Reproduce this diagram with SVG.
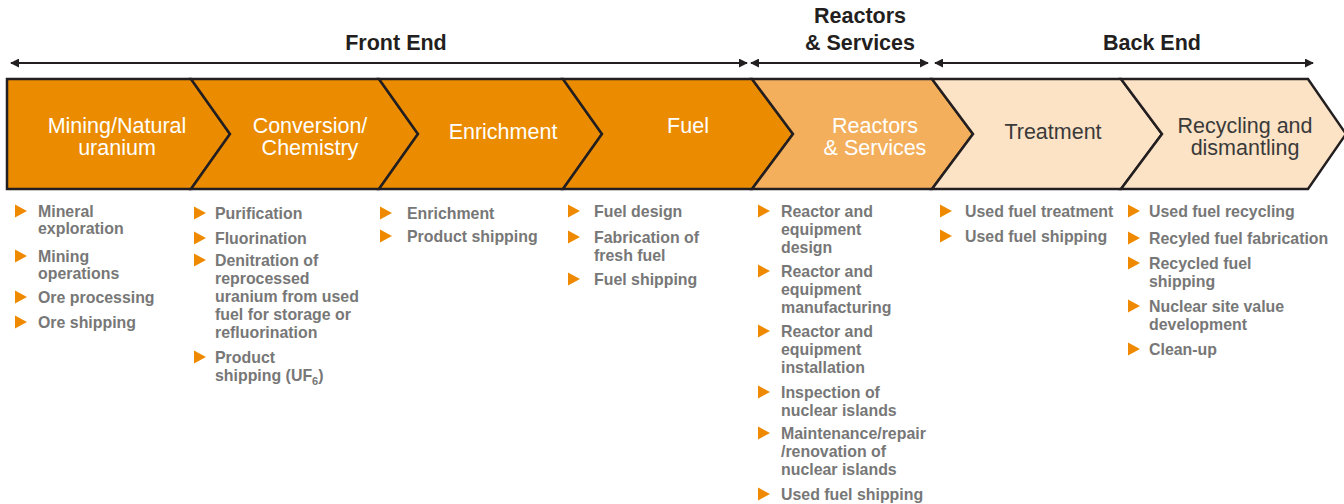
<svg xmlns="http://www.w3.org/2000/svg" width="1344" height="504" viewBox="0 0 1344 504">
<defs>
<style>
.hd{font-family:"Liberation Sans",Arial,sans-serif;font-weight:bold;font-size:21.5px;fill:#231f20;text-anchor:middle}
.ch{stroke:#231f20;stroke-width:2.5;stroke-linejoin:miter}
.fe{fill:#eb8c00}
.rs{fill:#f3af5c}
.be{fill:#fce3c6}
.lw{font-family:"Liberation Sans",Arial,sans-serif;font-size:21.5px;fill:#ffffff;text-anchor:middle}
.ld{font-family:"Liberation Sans",Arial,sans-serif;font-size:21.5px;fill:#3a3a3a;text-anchor:middle}
.bt{font-family:"Liberation Sans",Arial,sans-serif;font-weight:bold;font-size:15.9px;fill:#777777}
.bu{fill:#ef8a00}
.ar{stroke:#231f20;stroke-width:2;fill:none}
</style>
<marker id="ah" viewBox="0 0 10 10" refX="9" refY="5" markerWidth="4.5" markerHeight="4.5" orient="auto-start-reverse" markerUnits="strokeWidth">
<path d="M0,0 L10,5 L0,10 z" fill="#231f20"/>
</marker>
<path id="tri" d="M0,-6.5 L12,0 L0,6.5 z"/>
</defs>
<rect width="1344" height="504" fill="#ffffff"/>

<g id="headers">
<text class="hd" x="396" y="50">Front End</text>
<text class="hd" x="860" y="23">Reactors</text>
<text class="hd" x="860" y="50">&amp; Services</text>
<text class="hd" x="1152" y="50">Back End</text>
</g>

<g id="connectors">
<line class="ar" x1="11" y1="63" x2="747" y2="63" marker-start="url(#ah)" marker-end="url(#ah)"/>
<line class="ar" x1="751" y1="63" x2="928" y2="63" marker-start="url(#ah)" marker-end="url(#ah)"/>
<line class="ar" x1="935" y1="63" x2="1313" y2="63" marker-start="url(#ah)" marker-end="url(#ah)"/>
</g>

<g id="node-mining">
<polygon class="ch fe" points="7,79 191,79 230,134 191,189 7,189"/>
<text class="lw" x="117" y="133">Mining/Natural</text>
<text class="lw" x="117" y="155">uranium</text>
</g>
<g id="node-conversion">
<polygon class="ch fe" points="191,79 379,79 418,134 379,189 191,189 230,134"/>
<text class="lw" x="310" y="133">Conversion/</text>
<text class="lw" x="310" y="155">Chemistry</text>
</g>
<g id="node-enrichment">
<polygon class="ch fe" points="379,79 563,79 602,134 563,189 379,189 418,134"/>
<text class="lw" x="503" y="139">Enrichment</text>
</g>
<g id="node-fuel">
<polygon class="ch fe" points="563,79 752,79 793,134 752,189 563,189 602,134"/>
<text class="lw" x="688" y="133">Fuel</text>
</g>
<g id="node-reactors">
<polygon class="ch rs" points="752,79 932,79 973,134 932,189 752,189 793,134"/>
<text class="lw" x="875" y="133">Reactors</text>
<text class="lw" x="875" y="155">&amp; Services</text>
</g>
<g id="node-treatment">
<polygon class="ch be" points="932,79 1121,79 1162,134 1121,189 932,189 973,134"/>
<text class="ld" x="1053" y="139">Treatment</text>
</g>
<g id="node-recycling">
<polygon class="ch be" points="1121,79 1308,79 1346,134 1308,189 1121,189 1162,134"/>
<text class="ld" x="1245" y="133">Recycling and</text>
<text class="ld" x="1245" y="155">dismantling</text>
</g>

<g id="list-mining">
<use href="#tri" class="bu" x="15" y="211"/>
<use href="#tri" class="bu" x="15" y="256"/>
<use href="#tri" class="bu" x="15" y="297"/>
<use href="#tri" class="bu" x="15" y="322"/>
<text class="bt" x="38" y="217">Mineral</text>
<text class="bt" x="38" y="234">exploration</text>
<text class="bt" x="38" y="262">Mining</text>
<text class="bt" x="38" y="279">operations</text>
<text class="bt" x="38" y="303">Ore processing</text>
<text class="bt" x="38" y="328">Ore shipping</text>
</g>

<g id="list-conversion">
<use href="#tri" class="bu" x="194" y="213"/>
<use href="#tri" class="bu" x="194" y="238"/>
<use href="#tri" class="bu" x="194" y="260"/>
<use href="#tri" class="bu" x="194" y="357"/>
<text class="bt" x="215" y="219">Purification</text>
<text class="bt" x="215" y="244">Fluorination</text>
<text class="bt" x="215" y="266">Denitration of</text>
<text class="bt" x="215" y="284">reprocessed</text>
<text class="bt" x="215" y="302">uranium from used</text>
<text class="bt" x="215" y="320">fuel for storage or</text>
<text class="bt" x="215" y="338">refluorination</text>
<text class="bt" x="215" y="363">Product</text>
<text class="bt" x="215" y="381">shipping (UF<tspan font-size="11px" dy="4">6</tspan><tspan dy="-4">)</tspan></text>
</g>

<g id="list-enrichment">
<use href="#tri" class="bu" x="380" y="213"/>
<use href="#tri" class="bu" x="380" y="236"/>
<text class="bt" x="407" y="219">Enrichment</text>
<text class="bt" x="407" y="242">Product shipping</text>
</g>

<g id="list-fuel">
<use href="#tri" class="bu" x="568" y="211"/>
<use href="#tri" class="bu" x="568" y="237"/>
<use href="#tri" class="bu" x="568" y="279"/>
<text class="bt" x="594" y="217">Fuel design</text>
<text class="bt" x="594" y="243">Fabrication of</text>
<text class="bt" x="594" y="261">fresh fuel</text>
<text class="bt" x="594" y="285">Fuel shipping</text>
</g>

<g id="list-reactors">
<use href="#tri" class="bu" x="758" y="211"/>
<use href="#tri" class="bu" x="758" y="271"/>
<use href="#tri" class="bu" x="758" y="331"/>
<use href="#tri" class="bu" x="758" y="392"/>
<use href="#tri" class="bu" x="758" y="433"/>
<use href="#tri" class="bu" x="758" y="494"/>
<text class="bt" x="781" y="217">Reactor and</text>
<text class="bt" x="781" y="235">equipment</text>
<text class="bt" x="781" y="253">design</text>
<text class="bt" x="781" y="277">Reactor and</text>
<text class="bt" x="781" y="295">equipment</text>
<text class="bt" x="781" y="313">manufacturing</text>
<text class="bt" x="781" y="337">Reactor and</text>
<text class="bt" x="781" y="355">equipment</text>
<text class="bt" x="781" y="373">installation</text>
<text class="bt" x="781" y="398">Inspection of</text>
<text class="bt" x="781" y="416">nuclear islands</text>
<text class="bt" x="781" y="439">Maintenance/repair</text>
<text class="bt" x="781" y="457">/renovation of</text>
<text class="bt" x="781" y="475">nuclear islands</text>
<text class="bt" x="781" y="500">Used fuel shipping</text>
</g>

<g id="list-treatment">
<use href="#tri" class="bu" x="940" y="211"/>
<use href="#tri" class="bu" x="940" y="236"/>
<text class="bt" x="965" y="217">Used fuel treatment</text>
<text class="bt" x="965" y="242">Used fuel shipping</text>
</g>

<g id="list-recycling">
<use href="#tri" class="bu" x="1128" y="211"/>
<use href="#tri" class="bu" x="1128" y="238"/>
<use href="#tri" class="bu" x="1128" y="263"/>
<use href="#tri" class="bu" x="1128" y="306"/>
<use href="#tri" class="bu" x="1128" y="349"/>
<text class="bt" x="1149" y="217">Used fuel recycling</text>
<text class="bt" x="1149" y="244">Recyled fuel fabrication</text>
<text class="bt" x="1149" y="269">Recycled fuel</text>
<text class="bt" x="1149" y="287">shipping</text>
<text class="bt" x="1149" y="312">Nuclear site value</text>
<text class="bt" x="1149" y="330">development</text>
<text class="bt" x="1149" y="355">Clean-up</text>
</g>
</svg>
